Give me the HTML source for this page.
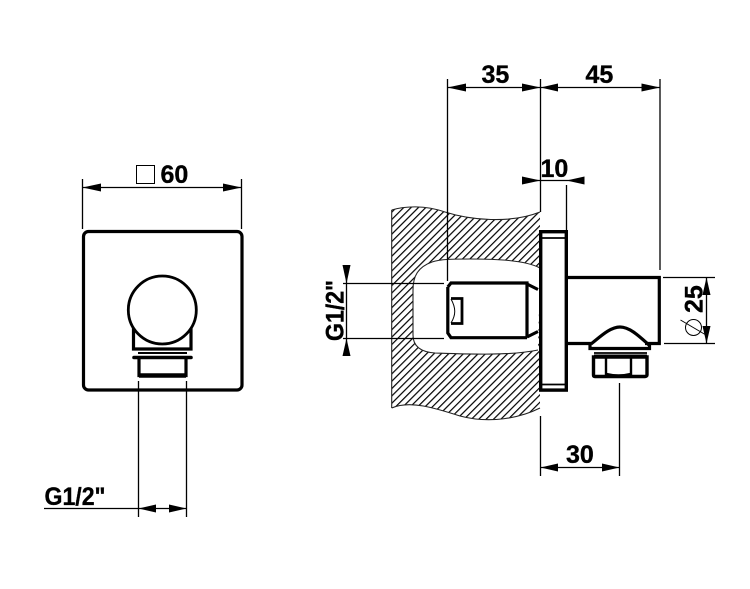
<!DOCTYPE html>
<html><head><meta charset="utf-8"><style>
html,body{margin:0;padding:0;background:#fff}
svg{display:block}
text{font-family:"Liberation Sans",sans-serif;font-weight:bold;font-size:25px;fill:#000;stroke:#000;stroke-width:.35}
</style></head><body>
<svg width="750" height="589" viewBox="0 0 750 589" xmlns="http://www.w3.org/2000/svg">
<defs>
<pattern id="h" width="5.2" height="5.2" patternUnits="userSpaceOnUse" patternTransform="rotate(45)">
<rect x="0" y="0" width="1.2" height="5.2" fill="#000"/>
</pattern>
</defs>
<!-- hatch -->
<path fill-rule="evenodd" fill="url(#h)" d="M391.7 210 C405 206 425 205 445 212 C470 220 510 224 540 212 L540 408 C520 418 490 424 460 416 C435 408 410 400 391.7 408 Z M540 268 C525 260 495 259 470 259 C455 259 440 259 432 262 C418 267 413 276 413 290 L413 335 C413 346 420 352 435 353 C465 354 510 356 538 350 Z"/>
<path fill="none" stroke="#222" stroke-width="1.1" d="M391.7 210 C405 206 425 205 445 212 C470 220 510 224 540 212 M540 408 C520 418 490 424 460 416 C435 408 410 400 391.7 408 M391.7 210 V408 M540 268 C525 260 495 259 470 259 C455 259 440 259 432 262 C418 267 413 276 413 290 L413 335 C413 346 420 352 435 353 C465 354 510 356 538 350"/>

<g fill="none" stroke="#000" stroke-width="1.3">
<!-- left dims -->
<path d="M82.5 179V229M241.5 179V229M82.5 187.5H241.5"/>
<rect x="136.5" y="165.5" width="18" height="18" stroke-width="1"/>
<path d="M138.5 381V517M186.5 381V517M44 508.5H186.5"/>
<!-- right dims -->
<path d="M447.5 79V281M540.5 79V212M660 79V270M447.5 87.5H660"/>
<path d="M522 180.5H584M566.5 185V230"/>
<path d="M540.5 416V476M619.5 383V476M540.5 467.5H619.5"/>
<path d="M663 277.5H715M664 343.5H715M706.5 277.5V343.5"/>
<circle cx="693.5" cy="327.5" r="8" stroke-width="1"/>
<path d="M680.5 320L706 335" stroke-width="1"/>
<path d="M343 283.5H444M343 338.5H444M346.5 265V355"/>
</g>
<!-- arrows -->
<g fill="#000">
<path d="M82.5 187.5L101 183.5V191.5Z"/>
<path d="M241.5 187.5L223 183.5V191.5Z"/>
<path d="M138.5 508.5L156 504.5V512.5Z"/>
<path d="M186.5 508.5L169 504.5V512.5Z"/>
<path d="M447.5 87.5L466 83.5V91.5Z"/>
<path d="M540.5 87.5L522 83.5V91.5Z"/>
<path d="M540.5 87.5L558 83.5V91.5Z"/>
<path d="M660 87.5L641.5 83.5V91.5Z"/>
<path d="M540.5 180.5L522 176.5V184.5Z"/>
<path d="M566.5 180.5L584.5 176.5V184.5Z"/>
<path d="M540.5 467.5L558 463.5V471.5Z"/>
<path d="M619.5 467.5L602 463.5V471.5Z"/>
<path d="M706.5 277.5L702.5 295H710.5Z"/>
<path d="M706.5 343.5L702.5 326H710.5Z"/>
<path d="M346.5 283.5L342.5 265H350.5Z"/>
<path d="M346.5 338.5L342.5 356H350.5Z"/>
</g>

<!-- left view -->
<g fill="none" stroke="#000" stroke-width="3.2">
<rect x="83.5" y="231.5" width="158.5" height="158.5" rx="5"/>
<circle cx="162.3" cy="310" r="34" stroke-width="2.8"/>
<path d="M133.5 328V349H191V328"/>
<path d="M138 353H187" stroke-width="2"/>
<path d="M139 357V375.5H186V357" />
<path d="M134 357.5H191" stroke-width="3.6" stroke-linecap="round"/>
<path d="M139 375.5H186" stroke-width="4.4"/>
</g>

<!-- right view -->
<g fill="none" stroke="#000" stroke-width="3.2">
<rect x="540.7" y="231.7" width="25.6" height="158.4" stroke-width="3.4"/>
<path d="M542 238H565M542 384.5H565" stroke-width="1.8"/>
<path d="M566 277.5H659.3V343.5H645M566 343.5H591"/>
<path d="M591 344C600 337 610 327 620 327C630 327 640 337 649 345"/>
<path d="M590 344V348.5H649.5V344" />
<path d="M594 353H647" stroke-width="1.8"/>
<path d="M593.5 357H647V375C647 376 646 376.5 645 376.5H595C594 376.5 593.5 376 593.5 375Z" stroke-width="3.4"/>
<path d="M606 357V376M631 357V376" stroke-width="2.4"/>
<path d="M594 356.5H647" stroke-width="4"/>
<path d="M606 374C614 376 623 376 631 374" stroke-width="2.6"/>
<!-- threaded part -->
<path d="M447.8 287V333L451 337.7H527M447.8 287L451 283H527V337.7M527 284L538 289.5M527 337L538 331.5" stroke-width="3.2"/>
<path d="M451 298.5H462V323.5H451" stroke-width="2.8"/>
<path d="M451 299C456 308 456 315 451 323" stroke-width="1"/>
</g>

<!-- labels -->
<text x="160.5" y="183">60</text>
<text x="44.5" y="505" textLength="61" lengthAdjust="spacingAndGlyphs">G1/2"</text>
<text x="481.5" y="83">35</text>
<text x="585.5" y="83">45</text>
<text x="540.5" y="177">10</text>
<text x="566" y="463">30</text>
<text transform="translate(702.5 313) rotate(-90)">25</text>
<text transform="translate(343.5 341) rotate(-90)" textLength="61" lengthAdjust="spacingAndGlyphs">G1/2"</text>
</svg>
</body></html>
